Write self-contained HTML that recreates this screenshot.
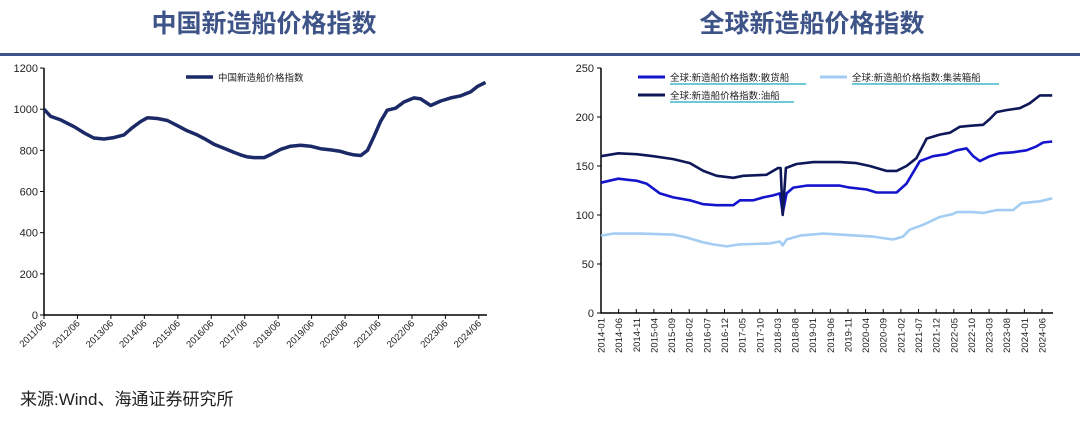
<!DOCTYPE html>
<html><head><meta charset="utf-8">
<style>
html,body{margin:0;padding:0;background:#fff;}
body{width:1080px;height:418px;overflow:hidden;position:relative;font-family:"Liberation Sans","Noto Sans CJK SC",sans-serif;}
svg text{font-family:"Liberation Sans","Noto Sans CJK SC",sans-serif;}
</style></head>
<body>
<svg id="s" width="1080" height="418" xmlns="http://www.w3.org/2000/svg">
<text x="264" y="32" text-anchor="middle" font-size="25" font-weight="bold" fill="#3e5488">中国新造船价格指数</text>
<text x="812" y="32" text-anchor="middle" font-size="25" font-weight="bold" fill="#3e5488">全球新造船价格指数</text>
<rect x="0" y="53" width="1080" height="3" fill="#3e5488"/>
<text x="20" y="405" font-size="17" fill="#222">来源:Wind、海通证券研究所</text>
<g id="L"></g><g id="R"></g>
</svg>
<script>
// LEFT CHART data: years since 2011/06 and index values
const cnOffsetYears=[0,0.2,0.5,0.9,1.2,1.49,1.79,2.09,2.39,2.64,2.89,3.09,3.39,3.69,3.99,4.28,4.58,4.78,5.08,5.38,5.68,5.88,6.08,6.28,6.58,6.78,7.08,7.37,7.67,7.97,8.27,8.57,8.87,9.07,9.27,9.47,9.67,9.87,10.06,10.26,10.51,10.76,11.06,11.26,11.56,11.86,12.16,12.46,12.76,12.95,13.2];
const cnY=[1000,965,948,915,885,860,855,862,875,910,940,958,955,945,920,895,875,858,830,810,790,778,768,765,765,780,805,820,825,820,808,802,795,785,778,775,800,870,940,995,1005,1035,1055,1050,1018,1040,1055,1065,1085,1110,1130];
const cnTickLabels=['2011/06','2012/06','2013/06','2014/06','2015/06','2016/06','2017/06','2018/06','2019/06','2020/06','2021/06','2022/06','2023/06','2024/06'];
const cnYTicks=[0,200,400,600,800,1000,1200];
// RIGHT CHART data (month index from 2014-01)
const tankerM=[0,4.9,10.1,14.8,20.5,25.2,29,32.8,37.5,40.3,46.9,50.2,50.9,51.5,52.4,55.4,60.2,67.7,72.4,76.2,80.9,83.8,86.6,89.4,92.3,96,98.9,101.7,104.5,108.3,110.2,112.1,114.9,118.7,121.5,124.4,127.9];
const tankerV=[160,163,162,160,157,153,145,140,138,140,141,148,148,100,148,152,154,154,153,150,145,145,150,158,178,182,184,190,191,192,198,205,207,209,214,222,222];
const bulkM=[0,4.9,7.3,10.1,12.9,16.7,20.5,25.2,29,32.8,37.5,39.4,43.2,46,48.8,50.7,51.5,52.6,54.5,58.3,67.7,70.5,75.3,78.1,83.8,86.6,90.4,94.1,97.9,100.8,103.6,105.5,107.4,110.2,113,116.8,120.6,123.4,125.3,127.9];
const bulkV=[133,137,136,135,132,122,118,115,111,110,110,115,115,118,120,122,102,122,128,130,130,128,126,123,123,132,155,160,162,166,168,160,155,160,163,164,166,170,174,175];
const contM=[0,3.5,11,20.5,24.3,29,31.8,35.6,39.4,47.9,50.7,51.5,52.6,56.4,63,67.7,77.1,82.8,85.6,87.5,91.3,96,99.8,100.8,105.5,108.3,112.1,116.8,119.2,124.4,127.9];
const contV=[79,81,81,80,77,72,70,68,70,71,73,69,75,79,81,80,78,75,78,85,90,98,101,103,103,102,105,105,112,114,117];
const rTickLabels=['2014-01','2014-06','2014-11','2015-04','2015-09','2016-02','2016-07','2016-12','2017-05','2017-10','2018-03','2018-08','2019-01','2019-06','2019-11','2020-04','2020-09','2021-02','2021-07','2021-12','2022-05','2022-10','2023-03','2023-08','2024-01','2024-06'];
const rYTicks=[0,50,100,150,200,250];

const NS='http://www.w3.org/2000/svg';
function mk(p,tag,a){const e=document.createElementNS(NS,tag);for(const k in a)e.setAttribute(k,a[k]);p.appendChild(e);return e;}
const L=document.getElementById('L');
const lx=y=>44+y*33.45;
const ly=v=>315-v*0.2058;
{
 const ax=mk(L,'path',{d:`M44,68V315H487`,stroke:'#000','stroke-width':1.5,fill:'none'});
 
 cnYTicks.forEach(v=>{
  const t=mk(L,'line',{x1:40,x2:44,y1:ly(v),y2:ly(v),stroke:'#000'});
  
  const tx=mk(L,'text',{x:38,y:ly(v)+4,'text-anchor':'end','font-size':11,fill:'#222'});tx.textContent=v;
  
 });
 cnTickLabels.forEach((s,i)=>{
  const x=lx(i);
  const t=mk(L,'line',{x1:x,x2:x,y1:315,y2:319,stroke:'#000'});
  
  const tx=mk(L,'text',{x:x+3,y:324,'text-anchor':'end','font-size':9.5,fill:'#222',transform:`rotate(-45 ${x+3} 324)`});tx.textContent=s;
  
 });
 const d=cnOffsetYears.map((t,i)=>(i?'L':'M')+lx(t).toFixed(1)+','+ly(cnY[i]).toFixed(1)).join('');
 const p=mk(L,'path',{d,stroke:'#1b2a66','stroke-width':3.5,fill:'none','stroke-linejoin':'round'});
 
 const lg=mk(L,'line',{x1:186,x2:213,y1:77,y2:77,stroke:'#1b2a66','stroke-width':3.5});
 
 const lt=mk(L,'text',{x:218,y:81,'font-size':9.5,fill:'#222'});lt.textContent='中国新造船价格指数';
 
}
const R=document.getElementById('R');
const rx=m=>601+m*3.528;
const ry=v=>313-v*0.98;
{
 const ax=mk(R,'path',{d:`M601,68V313H1053`,stroke:'#000','stroke-width':1.5,fill:'none'});
 
 rYTicks.forEach(v=>{
  const t=mk(R,'line',{x1:597,x2:601,y1:ry(v),y2:ry(v),stroke:'#000'});
  
  const tx=mk(R,'text',{x:594,y:ry(v)+4,'text-anchor':'end','font-size':11,fill:'#222'});tx.textContent=v;
  
 });
 rTickLabels.forEach((s,i)=>{
  const x=rx(i*5);
  const t=mk(R,'line',{x1:x,x2:x,y1:309,y2:313,stroke:'#000'});
  
  const tx=mk(R,'text',{x:x+3.5,y:318,'text-anchor':'end','font-size':9.5,fill:'#222',transform:`rotate(-90 ${x+3.5} 318)`});tx.textContent=s;
  
 });
 const series=[[contM,contV,'#a3cdf2','container-ship-line'],[bulkM,bulkV,'#1414cc','bulk-carrier-line'],[tankerM,tankerV,'#0e1858','tanker-line']];
 series.forEach(([m,v,c,n])=>{
  const d=m.map((t,i)=>(i?'L':'M')+rx(t).toFixed(1)+','+ry(v[i]).toFixed(1)).join('');
  const p=mk(R,'path',{d,stroke:c,'stroke-width':2.6,fill:'none','stroke-linejoin':'round'});
  
 });
 const leg=[[638,77,'#1414cc','全球:新造船价格指数:散货船',806],[820,77,'#a3cdf2','全球:新造船价格指数:集装箱船',999],[638,95,'#0e1858','全球:新造船价格指数:油船',794]];
 leg.forEach(([x,y,c,s,e])=>{
  const l=mk(R,'line',{x1:x,x2:x+27,y1:y,y2:y,stroke:c,'stroke-width':3});
  
  const t=mk(R,'text',{x:x+32,y:y+4,'font-size':9.5,fill:'#222'});t.textContent=s;
  
  const u=mk(R,'line',{x1:x+32,x2:e,y1:y+7,y2:y+7,stroke:'#3bb8c8','stroke-width':1.5});
  
 });
}
</script>
</body></html>
